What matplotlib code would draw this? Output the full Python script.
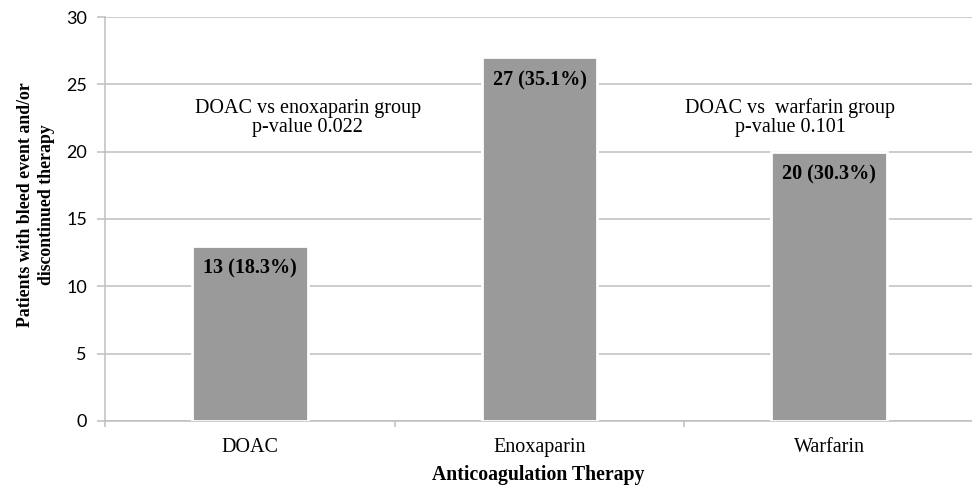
import matplotlib.pyplot as plt
import numpy as np

plt.rcParams['font.family'] = ['Liberation Serif', 'DejaVu Serif']

categories = ['DOAC', 'Enoxaparin', 'Warfarin']
counts = [13, 27, 20]
bar_labels = ['13 (18.3%)', '27 (35.1%)', '20 (30.3%)']
notes = ['DOAC vs enoxaparin group\np-value 0.022', 'DOAC vs  warfarin group\np-value 0.101']
note_x = [0.2, 1.865]
note_y = [22.5, 22.5]

grid_col = '#BFBFBF'

fig = plt.figure(figsize=(9.72, 4.86), dpi=100)
ax = fig.add_axes([0.108, 0.134, 0.894, 0.831])

x = np.arange(len(categories))
bars = ax.bar(x, counts, width=0.40, color='#9A9A9A', edgecolor='white', linewidth=2, zorder=3)

ax.set_xlim(-0.5, 2.5)
ax.set_ylim(0, 30)
ax.set_yticks(range(0, 31, 5))
ax.yaxis.grid(True, color=grid_col, linewidth=1.1, zorder=0)
ax.set_axisbelow(True)

ax.set_xticks(x)
ax.set_xticklabels(categories, fontsize=14.5)
ax.set_xticks([-0.5, 0.5, 1.5, 2.5], minor=True)
ax.tick_params(axis='x', which='major', length=0, pad=12)
ax.tick_params(axis='x', which='minor', length=4, color=grid_col, width=1.1)
ax.tick_params(axis='y', length=6, color=grid_col, width=1.1, pad=7)
for t in ax.get_yticklabels():
    t.set_fontfamily('Lato')
    t.set_fontsize(13)

for s in ['top', 'right']:
    ax.spines[s].set_visible(False)
for s in ['left', 'bottom']:
    ax.spines[s].set_color(grid_col)
    ax.spines[s].set_linewidth(1.1)

for rect, lab in zip(bars, bar_labels):
    ax.annotate(lab, xy=(rect.get_x() + rect.get_width() / 2, rect.get_height()),
                xytext=(0, -16.5), textcoords='offset points',
                ha='center', va='center', fontsize=14.5, fontweight='bold', zorder=4)

for nx, ny, t in zip(note_x, note_y, notes):
    ax.text(nx, ny, t, ha='center', va='center', fontsize=14.5, linespacing=1.0)

# axis titles placed by hand, like the original
fig.text(36 / 972, 1 - 205 / 486, 'Patients with bleed event and/or\ndiscontinued therapy',
         rotation=90, ha='center', va='center', fontsize=12.8, fontweight='bold',
         linespacing=1.35, multialignment='center')
fig.text(538 / 972, 1 - 480 / 486, 'Anticoagulation Therapy', ha='center', va='baseline',
         fontsize=14.2, fontweight='bold')

fig.savefig('out.png', dpi=100)
